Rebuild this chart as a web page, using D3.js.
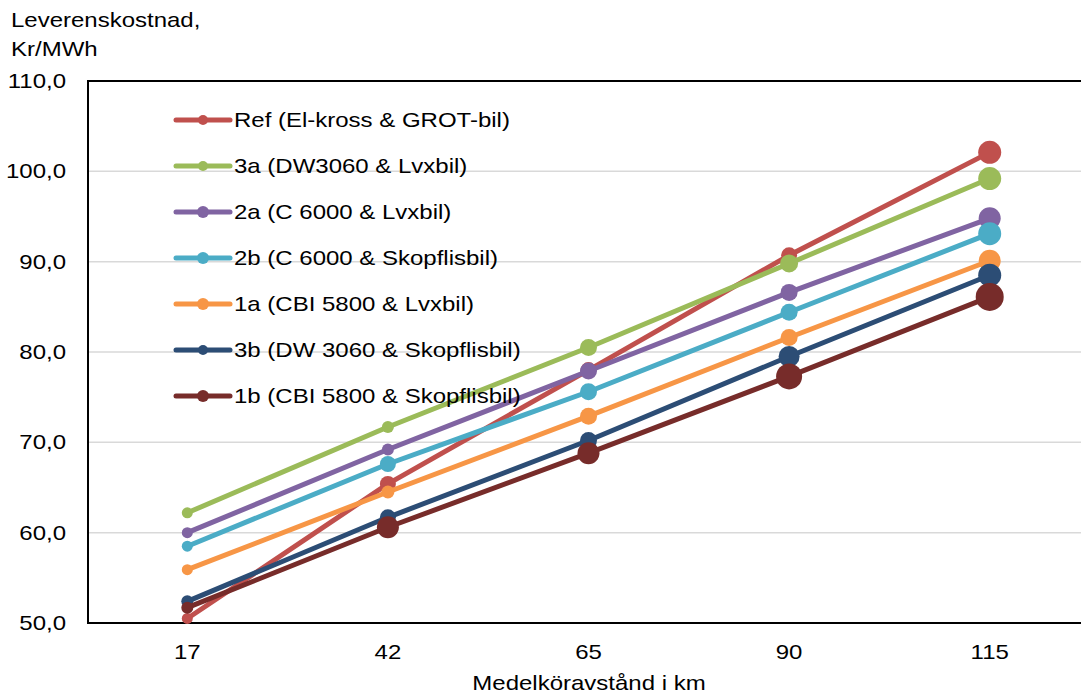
<!DOCTYPE html>
<html>
<head>
<meta charset="utf-8">
<script src="https://cdn.jsdelivr.net/npm/d3@7/dist/d3.min.js"></script>
<style>
  html, body { margin: 0; padding: 0; background: #fff; }
  svg { display: block; font-family: "Liberation Sans", Arial, sans-serif; }
</style>
</head>
<body>
<svg id="chart" width="1081" height="696"></svg>
<script>
// Average driving distance (km)
const distances = ["17", "42", "65", "90", "115"];

// Delivery cost per scenario, Kr/MWh
const seriesNames = [
  "Ref (El-kross & GROT-bil)",
  "3a (DW3060 & Lvxbil)",
  "2a (C 6000 & Lvxbil)",
  "2b (C 6000 & Skopflisbil)",
  "1a (CBI 5800 & Lvxbil)",
  "3b (DW 3060 & Skopflisbil)",
  "1b (CBI 5800 & Skopflisbil)"
];
const refValues = [50.5, 65.4, 78.0, 90.7, 102.1];
const s3aValues = [62.2, 71.7, 80.5, 89.8, 99.2];
const s2aValues = [60.0, 69.2, 77.9, 86.6, 94.8];
const s2bValues = [58.5, 67.6, 75.6, 84.4, 93.1];
const s1aValues = [55.9, 64.5, 72.9, 81.6, 90.1];
const s3bValues = [52.4, 61.7, 70.2, 79.5, 88.5];
const s1bValues = [51.7, 60.6, 68.8, 77.3, 86.1];

const yTicks = [50, 60, 70, 80, 90, 100, 110];

// Styling: colour per scenario and marker radius per point
const colors = ["#C0504D", "#9BBB59", "#8064A2", "#4BACC6", "#F79646", "#2C4D75", "#772C2A"];
const markerRadii = [
  [5.5, 8, 8, 8, 11.5],
  [5.5, 6, 8.5, 9, 11.5],
  [5.5, 6, 8.5, 8.5, 11],
  [5.5, 8, 8.5, 8.5, 11.5],
  [5.5, 6.5, 8.5, 8.5, 11],
  [6, 8, 8.5, 10.5, 11.5],
  [6, 11, 11, 13, 14]
];
const legendRadii = [5, 5, 6, 6, 6, 5, 6];

const allValues = [refValues, s3aValues, s2aValues, s2bValues, s1aValues, s3bValues, s1bValues];
const series = seriesNames.map((name, i) => ({
  name,
  color: colors[i],
  points: distances.map((d, j) => ({ d, v: allValues[i][j], r: markerRadii[i][j] }))
}));

const svg = d3.select("#chart");
const plot = { left: 88, top: 81, right: 1090, bottom: 623 };
const FONT = 20;
const STRETCH = 1.2; // labels are set in a slightly widened face

const x = d3.scaleBand().domain(distances).range([87, 1090]);
const y = d3.scaleLinear().domain([50, 110]).range([plot.bottom, plot.top]);
const xc = d => x(d) + x.bandwidth() / 2;

// Text helper: places a horizontally widened label at (tx, ty)
function label(parent, tx, ty, str, anchor = "start", dy = null) {
  const t = parent.append("text")
    .attr("transform", `translate(${tx},${ty}) scale(${STRETCH},1)`)
    .attr("font-size", FONT).attr("fill", "#000")
    .attr("text-anchor", anchor).text(str);
  if (dy) t.attr("dy", dy);
  return t;
}

// Horizontal gridlines
svg.append("g")
  .selectAll("line")
  .data(yTicks.filter(t => t > 50 && t < 110))
  .join("line")
  .attr("x1", plot.left).attr("x2", 1081)
  .attr("y1", d => y(d)).attr("y2", d => y(d))
  .attr("stroke", "#d9d9d9").attr("stroke-width", 1.5);

// Frame: top and left lines
svg.append("line").attr("x1", plot.left).attr("x2", 1081).attr("y1", y(110)).attr("y2", y(110))
  .attr("stroke", "#000").attr("stroke-width", 2);
svg.append("line").attr("x1", plot.left).attr("x2", plot.left).attr("y1", y(110) - 1).attr("y2", y(50) + 1)
  .attr("stroke", "#000").attr("stroke-width", 2);

// Y axis labels
const gy = svg.append("g");
const fmt = d => d3.format(".1f")(d).replace(".", ",");
yTicks.forEach(t => label(gy, 66, y(t), fmt(t), "end", "0.35em"));

// X axis labels
const gx = svg.append("g");
distances.forEach(d => label(gx, xc(d), 659, d, "middle"));

// X axis line
svg.append("line").attr("x1", plot.left - 1).attr("x2", 1081).attr("y1", plot.bottom).attr("y2", plot.bottom)
  .attr("stroke", "#000").attr("stroke-width", 2);

// Series lines and markers
const line = d3.line().x(p => xc(p.d)).y(p => y(p.v));
series.forEach(s => {
  const g = svg.append("g");
  g.append("path").datum(s.points).attr("d", line)
    .attr("fill", "none").attr("stroke", s.color).attr("stroke-width", 5)
    .attr("stroke-linejoin", "round").attr("stroke-linecap", "round");
  g.selectAll("circle").data(s.points).join("circle")
    .attr("cx", p => xc(p.d)).attr("cy", p => y(p.v)).attr("r", p => p.r)
    .attr("fill", s.color);
});

// Legend
const legend = svg.append("g");
series.forEach((s, i) => {
  const ly = 120 + i * 46;
  const g = legend.append("g");
  g.append("line").attr("x1", 176).attr("x2", 230).attr("y1", ly).attr("y2", ly)
    .attr("stroke", s.color).attr("stroke-width", 5).attr("stroke-linecap", "round");
  g.append("circle").attr("cx", 203).attr("cy", ly).attr("r", legendRadii[i]).attr("fill", s.color);
  label(g, 234, ly, s.name, "start", "0.35em");
});

// Axis titles
label(svg, 11, 27, "Leverenskostnad,");
label(svg, 11, 56, "Kr/MWh");
label(svg, 589, 690, "Medelköravstånd i km", "middle");
</script>
</body>
</html>
